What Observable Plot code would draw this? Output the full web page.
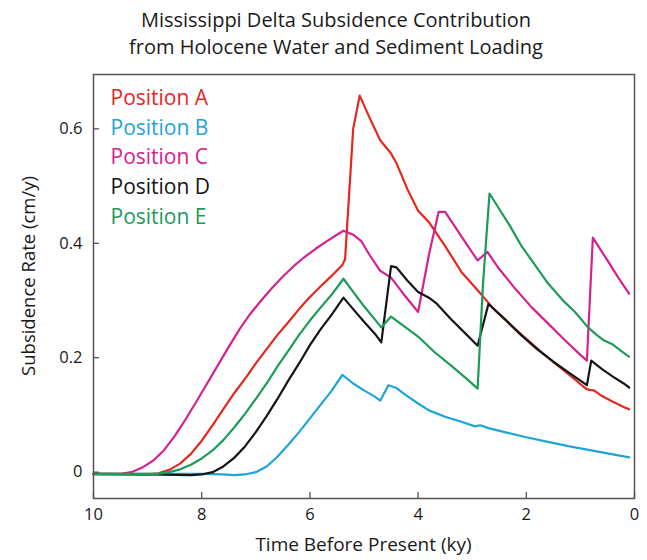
<!DOCTYPE html>
<html>
<head>
<meta charset="utf-8">
<script src="https://cdn.jsdelivr.net/npm/d3@7"></script>
<script src="https://cdn.jsdelivr.net/npm/@observablehq/plot@0.6"></script>
<style>
  html, body { margin: 0; padding: 0; background: #fff; }
  #wrap { position: relative; width: 647px; height: 560px; font-family: "Open Sans", sans-serif; color: #1a1a1a; }
  .title { position: absolute; left: 0; width: 672px; text-align: center; font-size: 20px; line-height: 27px; top: 6px; }
  .xlab { position: absolute; left: 93px; width: 541px; text-align: center; top: 531px; font-size: 19px; }
  .ylab { position: absolute; left: 27px; top: 276px; font-size: 18.5px; white-space: nowrap; transform: translate(-50%, -50%) rotate(-90deg); }
  #chart { position: absolute; left: 0; top: 0; }
</style>
</head>
<body>
<div id="wrap">
  <div id="chart"></div>
  <div class="title">Mississippi Delta Subsidence Contribution<br>from Holocene Water and Sediment Loading</div>
  <div class="ylab">Subsidence Rate (cm/y)</div>
  <div class="xlab">Time Before Present (ky)</div>
</div>
<script>
// ---- Data ----
const seriesNames = ["Position A", "Position B", "Position C", "Position D", "Position E"];
const seriesColors = ["#e2281f", "#1ea5d8", "#d4228e", "#151515", "#1d9b58"];
const xTicks = [10, 8, 6, 4, 2, 0];
const yTicks = [0, 0.2, 0.4, 0.6];

const posA_t = [10, 9.0, 8.8, 8.6, 8.4, 8.2, 8.0, 7.8, 7.6, 7.4, 7.2, 7.0, 6.8, 6.6, 6.4, 6.2, 6.0, 5.8, 5.6, 5.4, 5.35, 5.2, 5.08, 4.9, 4.7, 4.5, 4.4, 4.2, 4.0, 3.8, 3.5, 3.2, 2.9, 2.6, 2.3, 2.0, 1.7, 1.4, 1.1, 0.9, 0.85, 0.75, 0.6, 0.4, 0.2, 0.1];
const posA_v = [-0.004, -0.004, -0.002, 0.004, 0.015, 0.032, 0.055, 0.082, 0.11, 0.138, 0.163, 0.19, 0.215, 0.24, 0.262, 0.285, 0.306, 0.325, 0.343, 0.362, 0.372, 0.60, 0.658, 0.62, 0.58, 0.557, 0.54, 0.495, 0.457, 0.437, 0.395, 0.35, 0.318, 0.285, 0.258, 0.233, 0.208, 0.185, 0.162, 0.146, 0.144, 0.143, 0.133, 0.123, 0.114, 0.11];

const posB_t = [10, 9, 8, 7.6, 7.4, 7.2, 7.0, 6.8, 6.6, 6.4, 6.2, 6.0, 5.8, 5.6, 5.4, 5.2, 5.0, 4.8, 4.7, 4.55, 4.4, 4.2, 4.0, 3.8, 3.5, 3.2, 2.95, 2.85, 2.7, 2.4, 2.0, 1.6, 1.2, 0.8, 0.4, 0.1];
const posB_v = [-0.003, -0.003, -0.003, -0.004, -0.005, -0.004, 0.0, 0.01, 0.027, 0.048, 0.07, 0.094, 0.118, 0.142, 0.17, 0.155, 0.143, 0.132, 0.125, 0.152, 0.147, 0.133, 0.12, 0.108, 0.097, 0.088, 0.08, 0.082, 0.077, 0.07, 0.061, 0.053, 0.045, 0.038, 0.031, 0.026];

const posC_t = [10, 9.5, 9.3, 9.1, 8.9, 8.7, 8.5, 8.3, 8.1, 7.9, 7.7, 7.5, 7.3, 7.1, 6.9, 6.7, 6.5, 6.3, 6.1, 5.9, 5.7, 5.5, 5.38, 5.2, 5.05, 4.9, 4.7, 4.5, 4.3, 4.0, 3.8, 3.62, 3.5, 3.2, 2.9, 2.72, 2.5, 2.2, 1.9, 1.6, 1.3, 1.0, 0.88, 0.77, 0.5, 0.3, 0.1];
const posC_v = [-0.003, -0.003, 0.0, 0.008, 0.02, 0.038, 0.063, 0.092, 0.123, 0.155, 0.187, 0.219, 0.25, 0.277, 0.3, 0.322, 0.342, 0.36, 0.376, 0.39, 0.403, 0.415, 0.422, 0.415, 0.404, 0.38, 0.352, 0.34, 0.315, 0.28, 0.38, 0.455, 0.455, 0.412, 0.37, 0.385, 0.355, 0.32, 0.288, 0.26, 0.232, 0.205, 0.195, 0.41, 0.37, 0.34, 0.312];

const posD_t = [10, 9, 8.2, 8.0, 7.8, 7.6, 7.4, 7.2, 7.0, 6.8, 6.6, 6.4, 6.2, 6.0, 5.8, 5.6, 5.38, 5.2, 5.0, 4.8, 4.68, 4.5, 4.4, 4.2, 4.0, 3.8, 3.65, 3.4, 3.1, 2.9, 2.7, 2.4, 2.1, 1.8, 1.5, 1.2, 0.88, 0.8, 0.6, 0.4, 0.2, 0.1];
const posD_v = [-0.003, -0.004, -0.005, -0.004, 0.0, 0.01, 0.025, 0.045, 0.07, 0.098, 0.128, 0.16, 0.19, 0.222, 0.25, 0.275, 0.305, 0.285, 0.263, 0.242, 0.227, 0.36, 0.358, 0.335, 0.315, 0.305, 0.294, 0.268, 0.24, 0.221, 0.294, 0.268, 0.24, 0.215, 0.193, 0.173, 0.152, 0.195, 0.18, 0.167, 0.155, 0.148];

const posE_t = [10, 8.8, 8.6, 8.4, 8.2, 8.0, 7.8, 7.6, 7.4, 7.2, 7.0, 6.8, 6.6, 6.4, 6.2, 6.0, 5.8, 5.6, 5.38, 5.2, 5.0, 4.8, 4.68, 4.5, 4.3, 4.0, 3.7, 3.4, 3.1, 2.9, 2.8, 2.68, 2.5, 2.3, 2.1, 1.9, 1.6, 1.3, 1.1, 0.86, 0.7, 0.56, 0.4, 0.25, 0.1];
const posE_v = [-0.003, -0.003, 0.0, 0.005, 0.013, 0.024, 0.038, 0.056, 0.078, 0.102, 0.128, 0.155, 0.185, 0.212, 0.24, 0.265, 0.288, 0.31, 0.338, 0.315, 0.29, 0.267, 0.253, 0.272, 0.258, 0.237, 0.21, 0.187, 0.163, 0.146, 0.33, 0.487, 0.46, 0.43, 0.397, 0.37, 0.33, 0.298, 0.28, 0.253, 0.24, 0.23, 0.223, 0.212, 0.202];

const allT = [posA_t, posB_t, posC_t, posD_t, posE_t];
const allV = [posA_v, posB_v, posC_v, posD_v, posE_v];
const rows = seriesNames.flatMap((name, i) => allT[i].map((t, j) => ({series: name, t, v: allV[i][j]})));

const chart = Plot.plot({
  width: 647,
  height: 560,
  marginLeft: 93,
  marginRight: 13,
  marginTop: 74,
  marginBottom: 62,
  style: {fontFamily: "Open Sans, sans-serif", fontSize: "16.5px", color: "#1a1a1a", background: "#fff"},
  x: {domain: [10, 0], label: null},
  y: {domain: [-0.046, 0.695], label: null},
  color: {domain: seriesNames, range: seriesColors},
  marks: [
    Plot.axisX({ticks: xTicks, tickSize: 0, tickPadding: 10, label: null, tickFormat: d => String(d)}),
    Plot.axisY({ticks: yTicks, tickSize: 0, tickPadding: 11, label: null, tickFormat: d => d === 0 ? "0" : d.toFixed(1)}),
    // inward tick marks
    Plot.ruleX(xTicks, {x: d => d, insetTop: 418, stroke: "#555", strokeWidth: 1.3}),
    Plot.ruleY(yTicks, {y: d => d, insetRight: 535, stroke: "#555", strokeWidth: 1.3}),
    Plot.line(rows, {x: "t", y: "v", z: "series", stroke: "series", strokeWidth: 2.2, strokeLinejoin: "round"}),
    Plot.frame({stroke: "#555", strokeWidth: 1.5}),
    ...seriesNames.map((name, i) => Plot.text([name], {
      text: d => d, frameAnchor: "top-left", dx: 17, dy: 24 + i * 29.6,
      fill: seriesColors[i], fontSize: 21, textAnchor: "start", lineAnchor: "middle"
    }))
  ]
});
document.getElementById("chart").appendChild(chart);
</script>
</body>
</html>
